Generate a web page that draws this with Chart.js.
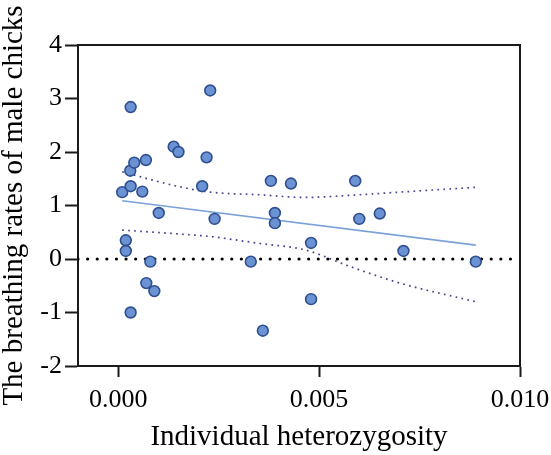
<!DOCTYPE html>
<html>
<head>
<meta charset="utf-8">
<script src="https://cdn.jsdelivr.net/npm/chart.js@4/dist/chart.umd.min.js"></script>
<style>
  html, body { margin: 0; padding: 0; background: #ffffff; }
  #wrap { width: 551px; height: 455px; }
</style>
</head>
<body>
<div id="wrap"><canvas id="c" width="551" height="455"></canvas></div>
<script>
// Individual heterozygosity (x) and breathing rate (y) of each male chick
const heterozygosity = [0.0001, 0.00019, 0.00019, 0.0003, 0.00031, 0.00031, 0.00031, 0.0004, 0.0006, 0.00069,
  0.0007, 0.0008, 0.0009, 0.00101, 0.00138, 0.0015, 0.00209, 0.0022, 0.00229, 0.0024,
  0.0033, 0.0036, 0.0038, 0.0039, 0.0039, 0.0043, 0.0048, 0.0048, 0.0059, 0.006,
  0.00651, 0.0071, 0.0089];
const breathingRate = [1.25, 0.35, 0.15, 1.65, 2.84, 1.36, -1.0, 1.80, 1.26, 1.85,
  -0.45, -0.05, -0.60, 0.86, 2.10, 2.00, 1.36, 1.90, 3.15, 0.75,
  -0.05, -1.34, 1.46, 0.86, 0.67, 1.41, 0.30, -0.75, 1.46, 0.75,
  0.85, 0.15, -0.05];

// Fitted regression line (end points)
const fitX = [0.0001, 0.0089];
const fitY = [1.09, 0.26];

// 95% confidence band
const bandX = [0.0001, 0.00147, 0.00229, 0.00353, 0.00465, 0.00577, 0.00701, 0.0089];
const bandUpper = [1.63, 1.36, 1.25, 1.20, 1.15, 1.19, 1.25, 1.34];
const bandLower = [0.54, 0.47, 0.42, 0.29, 0.17, -0.14, -0.45, -0.80];

// Reference line at zero, spanning the x axis
const zeroX = [-0.001, 0.010];
const zeroY = [0, 0];

// Axis ticks
const xTicks = [0.000, 0.005, 0.010];
const yTicks = [-2, -1, 0, 1, 2, 3, 4];

const toXY = (xs, ys) => xs.map((x, i) => ({ x: x, y: ys[i] }));

const serif = "'Liberation Serif', 'Times New Roman', serif";

const framePlugin = {
  id: 'frame',
  afterDatasetsDraw(chart) {
    const { ctx, chartArea } = chart;
    ctx.save();
    ctx.strokeStyle = '#1a1a1a';
    ctx.lineWidth = 2;
    ctx.beginPath();
    ctx.moveTo(chartArea.left, chartArea.top);
    ctx.lineTo(chartArea.right, chartArea.top);
    ctx.lineTo(chartArea.right, chartArea.bottom);
    ctx.stroke();
    ctx.restore();
  }
};

new Chart(document.getElementById('c'), {
  type: 'scatter',
  data: {
    datasets: [
      {
        label: 'Chicks',
        data: toXY(heterozygosity, breathingRate),
        backgroundColor: '#6b93d3',
        borderColor: '#2f4f8f',
        borderWidth: 1.6,
        pointRadius: 5.4,
        pointHoverRadius: 5.4,
        order: 0
      },
      {
        label: 'Fit',
        data: toXY(fitX, fitY),
        showLine: true,
        borderColor: '#7ba2d8',
        borderWidth: 1.6,
        pointRadius: 0,
        order: 2
      },
      {
        label: 'Upper 95% CI',
        data: toXY(bandX, bandUpper),
        showLine: true,
        cubicInterpolationMode: 'monotone',
        borderColor: '#45458a',
        borderWidth: 1.7,
        borderDash: [1.7, 4.3],
        pointRadius: 0,
        order: 3
      },
      {
        label: 'Lower 95% CI',
        data: toXY(bandX, bandLower),
        showLine: true,
        cubicInterpolationMode: 'monotone',
        borderColor: '#45458a',
        borderWidth: 1.7,
        borderDash: [1.7, 4.3],
        pointRadius: 0,
        order: 3
      },
      {
        label: 'Zero',
        data: toXY(zeroX, zeroY),
        showLine: true,
        borderColor: '#000000',
        borderWidth: 3.2,
        borderCapStyle: 'round',
        borderDash: [0.01, 9.6],
        pointRadius: 0,
        order: 4
      }
    ]
  },
  options: {
    responsive: false,
    animation: false,
    events: [],
    layout: { padding: { top: 45, right: 31, left: 0, bottom: 0 } },
    plugins: {
      legend: { display: false },
      tooltip: { enabled: false }
    },
    scales: {
      x: {
        type: 'linear',
        min: -0.001,
        max: 0.010,
        afterBuildTicks: (axis) => { axis.ticks = xTicks.map(v => ({ value: v })); },
        afterFit: (axis) => { axis.height = 89; axis.paddingRight = 0; axis.paddingLeft = 0; },
        ticks: {
          color: '#000',
          font: { family: serif, size: 26 },
          padding: 8,
          maxRotation: 0,
          callback: (v) => Number(v).toFixed(3)
        },
        grid: {
          display: true,
          drawOnChartArea: false,
          drawTicks: true,
          tickLength: 11,
          tickWidth: 2,
          tickColor: '#1a1a1a'
        },
        border: { display: true, color: '#1a1a1a', width: 2 },
        title: {
          display: true,
          text: 'Individual heterozygosity',
          color: '#000',
          font: { family: serif, size: 29, lineHeight: 1 },
          padding: { top: 0, bottom: 3 }
        }
      },
      y: {
        type: 'linear',
        min: -2,
        max: 4,
        afterBuildTicks: (axis) => { axis.ticks = yTicks.map(v => ({ value: v })); },
        afterFit: (axis) => { axis.width = 78; axis.paddingTop = 0; axis.paddingBottom = 0; },
        ticks: {
          color: '#000',
          font: { family: serif, size: 26 },
          padding: 3,
          callback: (v) => String(v)
        },
        grid: {
          display: true,
          drawOnChartArea: false,
          drawTicks: true,
          tickLength: 13,
          tickWidth: 2,
          tickColor: '#1a1a1a'
        },
        border: { display: true, color: '#1a1a1a', width: 2 },
        title: {
          display: true,
          text: 'The breathing rates of male chicks',
          color: '#000',
          font: { family: serif, size: 29, lineHeight: 1 },
          padding: { top: 0, bottom: 0 }
        }
      }
    }
  },
  plugins: [framePlugin]
});
</script>
</body>
</html>
